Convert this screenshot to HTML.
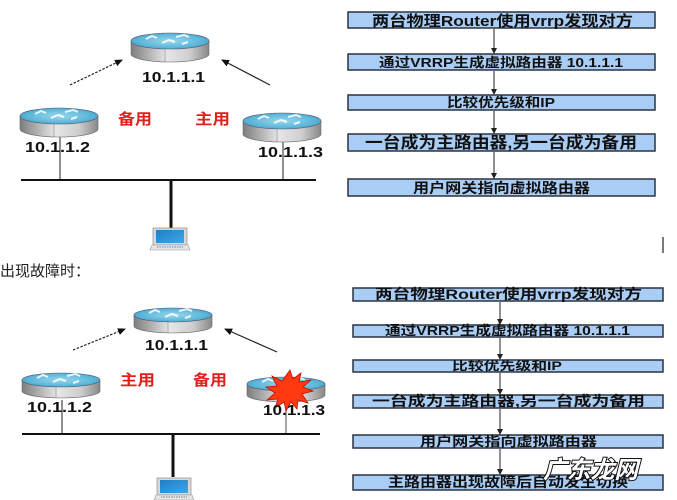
<!DOCTYPE html>
<html><head><meta charset="utf-8"><style>
html,body{margin:0;padding:0;background:#fff;width:677px;height:500px;overflow:hidden}
svg{display:block}
text{font-family:"Liberation Sans","Noto Sans CJK SC",sans-serif}
</style></head><body>
<svg width="677" height="500" viewBox="0 0 677 500" xmlns="http://www.w3.org/2000/svg">
<defs>
<linearGradient id="side" x1="0" x2="1" y1="0" y2="0">
<stop offset="0" stop-color="#7d7d7d"/><stop offset="0.45" stop-color="#e6e6e6"/><stop offset="0.75" stop-color="#cfcfcf"/><stop offset="1" stop-color="#888"/>
</linearGradient>
<radialGradient id="top" cx="0.5" cy="0.5" r="0.6">
<stop offset="0" stop-color="#9ad6ec"/><stop offset="0.7" stop-color="#5ab6d8"/><stop offset="1" stop-color="#3a98c0"/>
</radialGradient>
<linearGradient id="scr" x1="0" x2="1" y1="0" y2="1">
<stop offset="0" stop-color="#1f7fc8"/><stop offset="1" stop-color="#3fa6e6"/>
</linearGradient>
<g id="router">
<path d="M-39,0 v13 a39,8 0 0 0 78,0 v-13 z" fill="url(#side)" stroke="#666" stroke-width="0.6"/>
<line x1="-5" y1="7" x2="-5" y2="21" stroke="#888" stroke-width="0.6"/>
<ellipse cx="0" cy="0" rx="39" ry="8" fill="url(#top)" stroke="#557" stroke-width="0.6"/>
<path d="M-24,-2 l6,-3 l5,2 M-8,2 l7,-3 l6,2 M6,-4 l8,-2 l5,2 M12,3 l6,-2" stroke="#fff" stroke-width="2" fill="none" opacity="0.85"/>
</g>
<g id="routers">
<path d="M-39,0 v11 a39,7 0 0 0 78,0 v-11 z" fill="url(#side)" stroke="#666" stroke-width="0.6"/>
<line x1="-5" y1="6" x2="-5" y2="18" stroke="#888" stroke-width="0.6"/>
<ellipse cx="0" cy="0" rx="39" ry="7" fill="url(#top)" stroke="#557" stroke-width="0.6"/>
<path d="M-24,-2 l6,-3 l5,2 M-8,2 l7,-3 l6,2 M6,-4 l8,-2 l5,2 M12,3 l6,-2" stroke="#fff" stroke-width="2" fill="none" opacity="0.85"/>
</g>
<g id="laptop">
<rect x="0" y="0" width="34" height="17" fill="#d8d8d8" stroke="#999" stroke-width="0.8"/>
<rect x="3" y="2" width="28" height="13" fill="url(#scr)"/>
<path d="M-1,17 h36 l2,5 h-40 z" fill="#e4e4e4" stroke="#999" stroke-width="0.6"/>
<path d="M4,19 h26" stroke="#666" stroke-width="0.8" stroke-dasharray="1.5 1"/>
</g>
<marker id="ah" markerWidth="8" markerHeight="8" refX="7" refY="4" orient="auto" markerUnits="userSpaceOnUse">
<path d="M0,0.5 L8,4 L0,7.5 z" fill="#111"/>
</marker>
<marker id="ahs" markerWidth="6" markerHeight="6" refX="5" refY="3" orient="auto" markerUnits="userSpaceOnUse">
<path d="M0,0 L6,3 L0,6 z" fill="#222"/>
</marker>
</defs>

<!-- ===== TOP LEFT DIAGRAM ===== -->
<line x1="60" y1="133" x2="60" y2="180" stroke="#222" stroke-width="1"/>
<line x1="283" y1="137" x2="283" y2="180" stroke="#222" stroke-width="1"/>
<use href="#router" x="170" y="41"/>
<use href="#router" x="59" y="116"/>
<use href="#router" x="282" y="121"/>
<text x="142" y="82" font-size="15" font-weight="bold" textLength="63" lengthAdjust="spacingAndGlyphs" fill="#111">10.1.1.1</text>
<text x="25" y="152" font-size="15" font-weight="bold" textLength="65" lengthAdjust="spacingAndGlyphs" fill="#111">10.1.1.2</text>
<text x="258" y="157" font-size="15" font-weight="bold" textLength="65" lengthAdjust="spacingAndGlyphs" fill="#111">10.1.1.3</text>
<text x="118" y="124" font-size="15" font-weight="bold" textLength="34" lengthAdjust="spacingAndGlyphs" fill="#e0201c">备用</text>
<text x="195" y="124" font-size="15" font-weight="bold" textLength="35" lengthAdjust="spacingAndGlyphs" fill="#e0201c">主用</text>
<line x1="70" y1="85" x2="122" y2="60" stroke="#222" stroke-width="1.2" stroke-dasharray="2.5 1.5" marker-end="url(#ah)"/>
<line x1="270" y1="85" x2="222" y2="60" stroke="#222" stroke-width="1.2" marker-end="url(#ah)"/>
<line x1="21" y1="180" x2="316" y2="180" stroke="#111" stroke-width="2"/>
<line x1="171" y1="180" x2="171" y2="228" stroke="#111" stroke-width="3"/>
<use href="#laptop" x="153" y="228"/>

<text x="0" y="276" font-size="15" textLength="90" lengthAdjust="spacingAndGlyphs" fill="#222">出现故障时：</text>

<!-- ===== BOTTOM LEFT DIAGRAM ===== -->
<line x1="62" y1="400" x2="62" y2="434" stroke="#222" stroke-width="1"/>
<line x1="286" y1="405" x2="286" y2="434" stroke="#888" stroke-width="1.5"/>
<use href="#routers" x="173" y="315"/>
<use href="#routers" x="61" y="380"/>
<use href="#routers" x="286" y="384"/>
<path d="M290,370 l3,9 l8,-6 l-2,9 l12,-2 l-8,7 l10,4 l-11,3 l6,9 l-10,-3 l-1,9 l-6,-7 l-5,9 l-2,-9 l-9,6 l3,-9 l-11,1 l8,-7 l-9,-6 l11,-1 l-5,-10 l10,5 z" fill="#ff3a10" stroke="#c01000" stroke-width="0.8"/>
<text x="145" y="350" font-size="15" font-weight="bold" textLength="63" lengthAdjust="spacingAndGlyphs" fill="#111">10.1.1.1</text>
<text x="27" y="412" font-size="15" font-weight="bold" textLength="65" lengthAdjust="spacingAndGlyphs" fill="#111">10.1.1.2</text>
<text x="263" y="415" font-size="15" font-weight="bold" textLength="62" lengthAdjust="spacingAndGlyphs" fill="#111">10.1.1.3</text>
<text x="120" y="385" font-size="15" font-weight="bold" textLength="35" lengthAdjust="spacingAndGlyphs" fill="#e0201c">主用</text>
<text x="193" y="385" font-size="15" font-weight="bold" textLength="34" lengthAdjust="spacingAndGlyphs" fill="#e0201c">备用</text>
<line x1="73" y1="350" x2="125" y2="329" stroke="#222" stroke-width="1.2" stroke-dasharray="2.5 1.5" marker-end="url(#ah)"/>
<line x1="277" y1="352" x2="225" y2="329" stroke="#222" stroke-width="1.2" marker-end="url(#ah)"/>
<line x1="22" y1="434" x2="320" y2="434" stroke="#111" stroke-width="2"/>
<line x1="173" y1="434" x2="173" y2="477" stroke="#111" stroke-width="3"/>
<use href="#laptop" x="157" y="478"/>

<!-- ===== TOP RIGHT FLOW ===== -->
<g stroke="#2a3340" stroke-width="1.5" fill="#a9cdf5">
<rect x="348" y="12" width="307" height="16"/>
<rect x="348" y="54" width="307" height="16"/>
<rect x="348" y="95" width="307" height="15"/>
<rect x="348" y="134" width="307" height="17"/>
<rect x="348" y="179" width="307" height="17"/>
</g>
<g stroke="#222" stroke-width="1" marker-end="url(#ahs)">
<line x1="494" y1="29" x2="494" y2="53"/>
<line x1="494" y1="71" x2="494" y2="94"/>
<line x1="494" y1="111" x2="494" y2="133"/>
<line x1="494" y1="152" x2="494" y2="178"/>
</g>
<g fill="#111" font-weight="bold">
<text x="372" y="26" font-size="15" textLength="261" lengthAdjust="spacingAndGlyphs">两台物理Router使用vrrp发现对方</text>
<text x="379" y="67" font-size="13" textLength="244" lengthAdjust="spacingAndGlyphs">通过VRRP生成虚拟路由器 10.1.1.1</text>
<text x="447" y="107" font-size="13" textLength="108" lengthAdjust="spacingAndGlyphs">比较优先级和IP</text>
<text x="365" y="148" font-size="16" textLength="272" lengthAdjust="spacingAndGlyphs">一台成为主路由器,另一台成为备用</text>
<text x="413" y="193" font-size="14" textLength="177" lengthAdjust="spacingAndGlyphs">用户网关指向虚拟路由器</text>
</g>
<line x1="663" y1="237" x2="663" y2="253" stroke="#222" stroke-width="1.2"/>

<!-- ===== BOTTOM RIGHT FLOW ===== -->
<g stroke="#2a3340" stroke-width="1.5" fill="#a9cdf5">
<rect x="353" y="288" width="310" height="13"/>
<rect x="353" y="325" width="310" height="12"/>
<rect x="353" y="360" width="310" height="12"/>
<rect x="353" y="395" width="310" height="13"/>
<rect x="353" y="435" width="310" height="13"/>
<rect x="353" y="475" width="310" height="15"/>
</g>
<g stroke="#222" stroke-width="1" marker-end="url(#ahs)">
<line x1="500" y1="302" x2="500" y2="324"/>
<line x1="500" y1="338" x2="500" y2="359"/>
<line x1="500" y1="373" x2="500" y2="394"/>
<line x1="500" y1="409" x2="500" y2="434"/>
<line x1="500" y1="449" x2="500" y2="474"/>
</g>
<g fill="#111" font-weight="bold">
<text x="375" y="299" font-size="14" textLength="267" lengthAdjust="spacingAndGlyphs">两台物理Router使用vrrp发现对方</text>
<text x="385" y="335" font-size="13" textLength="245" lengthAdjust="spacingAndGlyphs">通过VRRP生成虚拟路由器 10.1.1.1</text>
<text x="452" y="370" font-size="12" textLength="110" lengthAdjust="spacingAndGlyphs">比较优先级和IP</text>
<text x="372" y="406" font-size="14" textLength="273" lengthAdjust="spacingAndGlyphs">一台成为主路由器,另一台成为备用</text>
<text x="420" y="446" font-size="13" textLength="177" lengthAdjust="spacingAndGlyphs">用户网关指向虚拟路由器</text>
<text x="388" y="487" font-size="14" textLength="240" lengthAdjust="spacingAndGlyphs">主路由器出现故障后自动发生切换</text>
</g>
<text x="543" y="478" font-size="24" font-weight="bold" font-style="italic" textLength="95" lengthAdjust="spacingAndGlyphs" fill="#fff" stroke="#111" stroke-width="2" paint-order="stroke">广东龙网</text>
</svg>
</body></html>
